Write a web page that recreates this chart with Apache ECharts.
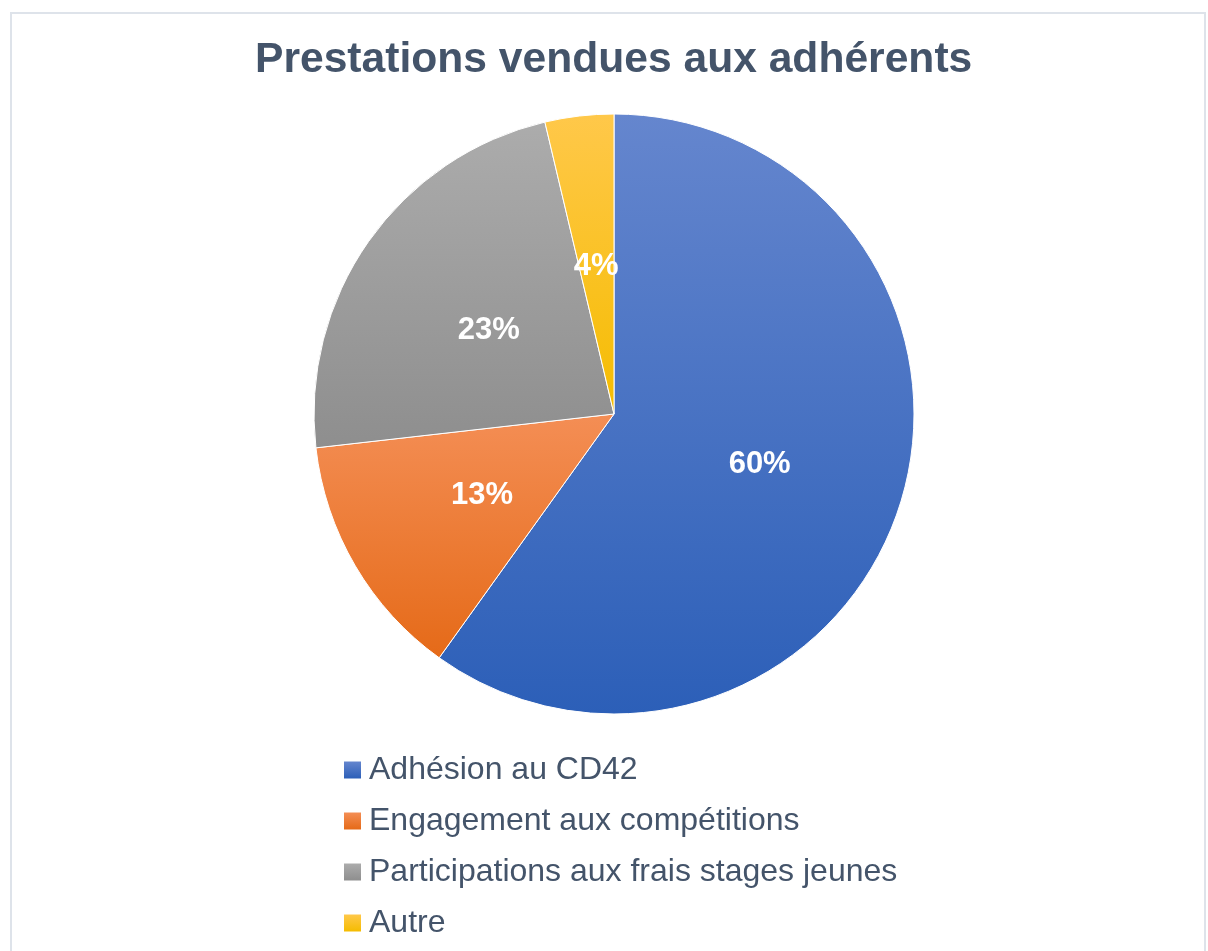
<!DOCTYPE html>
<html>
<head>
<meta charset="utf-8">
<script src="https://cdn.jsdelivr.net/npm/echarts@6/dist/echarts.min.js"></script>
<style>
  html, body { margin: 0; padding: 0; background: #fff; }
  #frame { position: absolute; left: 10px; top: 12px; width: 1196px; height: 960px;
    border: 2px solid #DEE3EA; box-sizing: border-box; }
  #chart { position: absolute; left: 0; top: 0; width: 1208px; height: 951px; }
</style>
</head>
<body>
<div id="frame"></div>
<div id="chart"></div>
<script>
// Données
const categories = ['Adhésion au CD42', 'Engagement aux compétitions', 'Participations aux frais stages jeunes', 'Autre']
const values = [59.9, 13.3, 23.1, 3.7]
// couleurs dégradées (haut -> bas) par part
const colorsTop = ['#6586CE', '#F48E55', '#ACACAC', '#FFC84A']
const colorsBottom = ['#2C5FB8', '#E56A18', '#8E8E8E', '#F5BC00']

const grad = (i) => new echarts.graphic.LinearGradient(0, 0, 0, 1, [
  { offset: 0, color: colorsTop[i] },
  { offset: 1, color: colorsBottom[i] }
])

const chart = echarts.init(document.getElementById('chart'))

chart.setOption({
  animation: false,
  title: {
    text: 'Prestations vendues aux adhérents',
    left: 255,
    top: 39,
    padding: 0,
    textStyle: { fontFamily: 'Liberation Sans, Arial', fontWeight: 'bold', fontSize: 42.6, color: '#44546A' }
  },
  legend: {
    orient: 'vertical',
    left: 344,
    top: 753,
    padding: 0,
    itemWidth: 17,
    itemHeight: 17,
    itemGap: 17,
    icon: 'rect',
    itemStyle: { borderWidth: 0 },
    textStyle: { fontFamily: 'Liberation Sans, Arial', fontSize: 32, color: '#44546A', lineHeight: 34, padding: [0, 0, 0, 3] },
    data: categories
  },
  series: [{
    type: 'pie',
    center: [614, 414],
    radius: 300,
    startAngle: 90,
    clockwise: true,
    itemStyle: { borderColor: '#fff', borderWidth: 1 },
    label: {
      position: 'inside',
      formatter: (p) => Math.round(p.percent) + '%',
      fontFamily: 'Liberation Sans, Arial',
      fontWeight: 'bold',
      fontSize: 31,
      color: '#fff',
      offset: [0, 4]
    },
    labelLine: { show: false },
    data: categories.map((name, i) => ({
      name,
      value: values[i],
      itemStyle: { color: grad(i) }
    }))
  }]
})
</script>
</body>
</html>
